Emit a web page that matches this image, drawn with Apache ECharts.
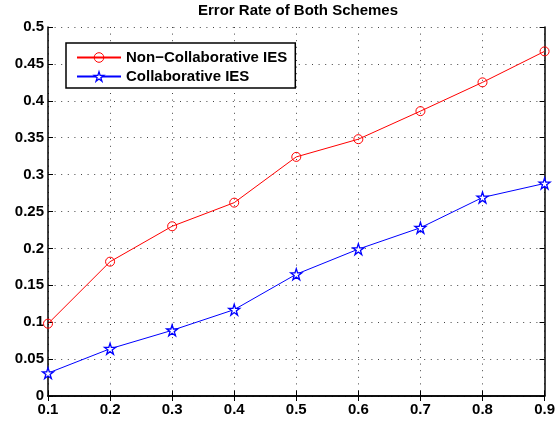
<!DOCTYPE html>
<html>
<head>
<meta charset="utf-8">
<script src="https://cdn.jsdelivr.net/npm/echarts@6/dist/echarts.min.js"></script>
<style>
  html, body { margin: 0; padding: 0; background: #fff; }
  #chart { width: 558px; height: 421px; }
</style>
</head>
<body>
<div id="chart"></div>
<script>
// Error rate against the x parameter for the two schemes
const xCategories = ['0.1', '0.2', '0.3', '0.4', '0.5', '0.6', '0.7', '0.8', '0.9'];
const nonCollaborative = [0.098, 0.182, 0.230, 0.262, 0.324, 0.348, 0.386, 0.425, 0.467];
const collaborative = [0.031, 0.064, 0.089, 0.117, 0.165, 0.199, 0.228, 0.269, 0.288];
const seriesNames = ['Non\u2212Collaborative IES', 'Collaborative IES'];
const titleText = 'Error Rate of Both Schemes';

const FONT = '"Liberation Sans", Arial, Helvetica, sans-serif';
const STAR = 'path://M50,0 L61.2,34.5 L97.6,34.5 L68.2,55.9 L79.4,90.5 L50,69.1 L20.6,90.5 L31.8,55.9 L2.4,34.5 L38.8,34.5 Z';

const redMarker = { color: 'rgba(255,255,255,0)', borderColor: '#ff0000', borderWidth: 1 };
const blueMarker = { color: '#ffffff', borderColor: '#0000ff', borderWidth: 1.3 };

const chart = echarts.init(document.getElementById('chart'), null, { renderer: 'canvas' });

const gridLine = { show: true, lineStyle: { color: '#444', width: 1, type: [1, 5.6] } };
const tickLabel = { fontFamily: FONT, fontWeight: 'bold', fontSize: 15, color: '#000' };

chart.setOption({
  animation: false,
  backgroundColor: '#fff',
  title: {
    text: titleText,
    left: 298, top: 3, textAlign: 'center', padding: 0,
    textStyle: { fontFamily: FONT, fontWeight: 'bold', fontSize: 15, color: '#000' }
  },
  grid: { left: 48, right: 11, top: 27, bottom: 25, containLabel: false },
  legend: {
    orient: 'vertical',
    left: 66, top: 43,
    padding: [7, 8, 4, 10],
    itemWidth: 44, itemHeight: 12, itemGap: 4,
    backgroundColor: '#fff',
    borderColor: '#000', borderWidth: 1.5, borderRadius: 0,
    textStyle: { fontFamily: FONT, fontWeight: 'bold', fontSize: 15, color: '#000' },
    data: [
      { name: seriesNames[0], itemStyle: redMarker },
      { name: seriesNames[1], itemStyle: blueMarker }
    ]
  },
  xAxis: [{
    type: 'category', data: xCategories, boundaryGap: false,
    axisLine: { lineStyle: { color: '#000', width: 1.5 } },
    axisTick: { inside: true, length: 5, lineStyle: { color: '#000' } },
    axisLabel: Object.assign({ margin: 6 }, tickLabel),
    splitLine: gridLine
  }, {
    type: 'category', data: xCategories, boundaryGap: false, position: 'top',
    axisLine: { lineStyle: { color: '#000', width: 1.5 } },
    axisTick: { inside: true, length: 5, lineStyle: { color: '#000' } },
    axisLabel: { show: false }, splitLine: { show: false }
  }],
  yAxis: [{
    type: 'value', min: 0, max: 0.5, interval: 0.05,
    axisLine: { show: true, lineStyle: { color: '#000', width: 1.5 } },
    axisTick: { show: true, inside: true, length: 5, lineStyle: { color: '#000' } },
    axisLabel: Object.assign({ margin: 4, formatter: v => String(+v.toFixed(2)) }, tickLabel),
    splitLine: gridLine
  }, {
    type: 'value', min: 0, max: 0.5, interval: 0.05, position: 'right',
    axisLine: { show: true, lineStyle: { color: '#000', width: 1.5 } },
    axisTick: { show: true, inside: true, length: 5, lineStyle: { color: '#000' } },
    axisLabel: { show: false }, splitLine: { show: false }
  }],
  series: [{
    name: seriesNames[0], type: 'line', data: nonCollaborative,
    symbol: 'circle', symbolSize: 9,
    itemStyle: redMarker,
    lineStyle: { color: '#ff0000', width: 1 }
  }, {
    name: seriesNames[1], type: 'line', data: collaborative,
    symbol: STAR, symbolSize: 11,
    itemStyle: blueMarker,
    lineStyle: { color: '#0000ff', width: 1 }
  }]
});
</script>
</body>
</html>
